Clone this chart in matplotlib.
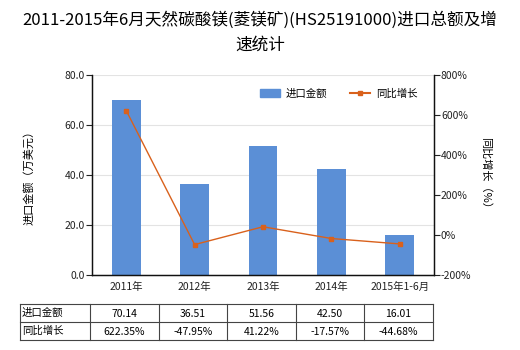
import matplotlib
matplotlib.use("Agg")
import matplotlib.pyplot as plt
from matplotlib.lines import Line2D

plt.rcParams['font.family'] = ['Noto Sans CJK SC', 'DejaVu Sans']

# data
years = ["2011年", "2012年", "2013年", "2014年", "2015年1-6月"]
amount = [70.14, 36.51, 51.56, 42.50, 16.01]
growth = [622.35, -47.95, 41.22, -17.57, -44.68]
amount_txt = ["70.14", "36.51", "51.56", "42.50", "16.01"]
growth_txt = ["622.35%", "-47.95%", "41.22%", "-17.57%", "-44.68%"]

bar_col = "#5b8fd6"
line_col = "#d9611c"

fig = plt.figure(figsize=(5.2, 3.5), dpi=100)
W, H = 520, 350
ax = fig.add_axes([92 / W, 1 - 275 / H, (434 - 92) / W, 200 / H])
ax2 = ax.twinx()

x = list(range(len(years)))
ax.bar(x, amount, width=0.42, color=bar_col, label="进口金额", zorder=2)
ax2.plot(x, growth, color=line_col, lw=1, marker="s", ms=3.5,
         markerfacecolor=line_col, label="同比增长", zorder=3)

ax.set_xlim(-0.5, 4.5)
ax.set_ylim(0, 80)
ax.set_yticks([0, 20, 40, 60, 80])
ax.set_yticklabels(["0.0", "20.0", "40.0", "60.0", "80.0"])
ax2.set_ylim(-200, 800)
ax2.set_yticks([-200, 0, 200, 400, 600, 800])
ax2.set_yticklabels(["-200%", "0%", "200%", "400%", "600%", "800%"])
ax.set_xticks(x)
ax.set_xticklabels(years)
ax.grid(axis="y", color="#e3e3e3", lw=0.8, zorder=0)
ax.set_axisbelow(True)

for a in (ax, ax2):
    a.tick_params(labelsize=7.5, length=4, width=0.8, pad=1, colors="#222222")
    a.spines["top"].set_visible(False)
    for s in ("left", "right", "bottom"):
        a.spines[s].set_color("#111111")
        a.spines[s].set_linewidth(0.9)
ax.tick_params(axis="x", length=0, pad=5)

ax.set_ylabel("进口金额（万美元）", fontsize=8, labelpad=22)
ax2.set_ylabel("同比增长（%）", fontsize=8, rotation=-90, labelpad=14)

handles = [plt.Rectangle((0, 0), 1, 1, color=bar_col),
           Line2D([0], [0], color=line_col, lw=1.5, marker="s", ms=3)]
ax.legend(handles, ["进口金额", "同比增长"], loc="upper right", ncol=2,
          frameon=False, fontsize=7.5, bbox_to_anchor=(0.98, 0.98),
          handlelength=1.9, handletextpad=0.6, columnspacing=2.2)

fig.text(0.5, 1 - 20 / H, "2011-2015年6月天然碳酸镁(菱镁矿)(HS25191000)进口总额及增",
         ha="center", va="center", fontsize=12)
fig.text(0.5, 1 - 45 / H, "速统计", ha="center", va="center", fontsize=12)

# table under the chart
tab = fig.add_axes([0, 0, 1, 1], facecolor="none")
tab.set_xlim(0, W)
tab.set_ylim(H, 0)
tab.axis("off")
cols = [20, 90, 159, 227, 296, 364, 433]
rows = [304, 322, 340]
for yy in rows:
    tab.plot([cols[0], cols[-1]], [yy, yy], color="#444444", lw=0.8)
for xx in cols:
    tab.plot([xx, xx], [rows[0], rows[-1]], color="#444444", lw=0.8)
row_names = ["进口金额", "同比增长"]
for r, vals in enumerate([amount_txt, growth_txt]):
    yc = (rows[r] + rows[r + 1]) / 2
    tab.text(cols[0] + 2, yc, row_names[r], ha="left", va="center", fontsize=7.5)
    for i, v in enumerate(vals):
        tab.text((cols[i + 1] + cols[i + 2]) / 2, yc + 1, v, ha="center",
                 va="center", fontsize=7.5)

fig.savefig("out.png", dpi=100)
